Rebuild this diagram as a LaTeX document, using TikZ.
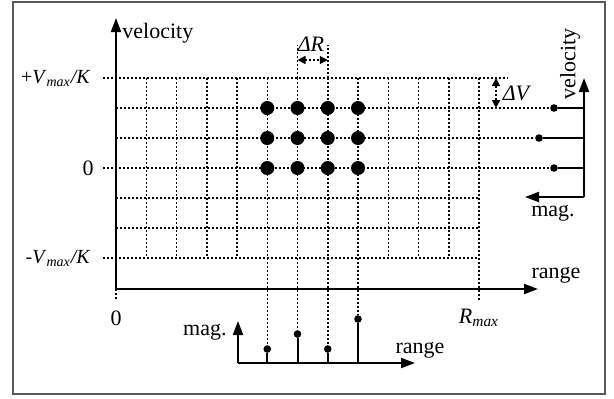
\documentclass[tikz,border=0pt]{standalone}
\usepackage{fontspec}
\setmainfont{Liberation Serif}
\usepackage{tikz}
\usetikzlibrary{arrows.meta,positioning,calc}

\newcommand{\vmx}{\textit{V}\textsubscript{\textit{max}}\textit{/K}}

\begin{document}
\begin{tikzpicture}[
    x=0.5pt, y=-0.5pt,
    every node/.style={font=\fontsize{11}{13}\selectfont, inner sep=1pt},
    vlimit/.style={anchor=east, font=\fontsize{10}{12}\selectfont},
    gridline/.style={line width=0.75pt, dash pattern=on 1pt off 1pt, black},
    axisarrow/.style={-{Triangle[length=7pt,width=5pt]}, line width=1pt},
    stemline/.style={line width=1pt},
    bigdot/.style={circle, fill=black, inner sep=0pt, minimum size=7pt},
    smalldot/.style={circle, fill=black, inner sep=0pt, minimum size=3.8pt},
    deltaarrow/.style={{Triangle[length=4pt,width=4pt]}-{Triangle[length=4pt,width=4pt]},
                       line width=0.75pt, dash pattern=on 1pt off 1pt},
]
\useasboundingbox (0,0) rectangle (614,398);
\draw[line width=1pt, gray!70!black] (13,2) rectangle (605,394);

% -------- Grid --------
\foreach \y in {78,168,258}{
  \draw[gridline] (103,\y) -- (479,\y);
}
\foreach \y in {108,138,198,228}{
  \draw[gridline] (116,\y) -- (479,\y);
}
\draw[gridline] (479,78) -- (508,78);
\foreach \k in {1,...,12}{
  \draw[gridline] ({116+30.25*\k},78) -- ({116+30.25*\k},258);
}
\draw[gridline] (479,258) -- (479,300);
\draw[gridline] (116,289) -- (116,300);

% -------- Main axes --------
\coordinate (O) at (116,289);
\coordinate (vtop) at (116,18);
\coordinate (rend) at (538,289);
\draw[axisarrow] (O) -- (vtop);
\draw[axisarrow] (O) -- (rend);
\node[anchor=west] (vlab) at (120,33) {velocity};
\node (rlab) at (556,275) {range};

\node[vlimit] (vpos) at (93,78) {+\vmx};
\node (vzero) at (88,168) {0};
\node[vlimit] (vneg) at (93,258) {-\vmx};
\node (rzero) at (116,318) {0};
\node (rmax) at (479,318) {\textit{R}\textsubscript{\textit{max}}};

% -------- Targets --------
\foreach \x [count=\i] in {267.25,297.5,327.75,358}{
  \foreach \y [count=\j] in {108,138,168}{
    \node[bigdot] (t-\i-\j) at (\x,\y) {};
  }
}

% -------- Delta R / Delta V --------
\draw[gridline] (297.5,78) -- (297.5,45);
\draw[gridline] (327.75,78) -- (327.75,45);
\coordinate (dra) at (297.5,60);
\coordinate (drb) at (327.75,60);
\draw[deltaarrow] (dra) -- (drb);
\node (drlab) at (311,44) {\textit{ΔR}};

\coordinate (dva) at (496,78);
\coordinate (dvb) at (496,108);
\draw[deltaarrow] (dva) -- (dvb);
\node (dvlab) at (517,93) {\textit{ΔV}};

% -------- Velocity profile (right) --------
\coordinate (vo) at (584,197);
\coordinate (vo-top) at (584,78);
\coordinate (vo-left) at (525,197);
\draw[axisarrow] (vo) -- (vo-top);
\draw[axisarrow] (vo) -- (vo-left);
\node[rotate=90] (vplab) at (570,64) {velocity};
\node (vmlab) at (553,213) {mag.};
\foreach \y/\m [count=\j] in {108/554,138/539,168/554}{
  \node[smalldot] (vd-\j) at (\m,\y) {};
  \coordinate (vs-\j) at (584,\y);
  \draw[gridline] (479,\y) -- (vd-\j);
  \draw[stemline] (vs-\j) -- (vd-\j);
}

% -------- Range profile (bottom) --------
\coordinate (ro) at (238,363);
\coordinate (ro-top) at (238,321);
\coordinate (ro-right) at (415,363);
\draw[axisarrow] (ro) -- (ro-top);
\draw[axisarrow] (ro) -- (ro-right);
\node[anchor=east] (rmlab) at (229,332) {mag.};
\node (rrlab) at (420,350) {range};
\foreach \x/\m [count=\i] in {267.25/349,297.5/334,327.75/349,358/319}{
  \node[smalldot] (rd-\i) at (\x,\m) {};
  \coordinate (rs-\i) at (\x,363);
  \draw[gridline] (\x,258) -- (rd-\i);
  \draw[stemline] (rs-\i) -- (rd-\i);
}

\end{tikzpicture}
\end{document}
